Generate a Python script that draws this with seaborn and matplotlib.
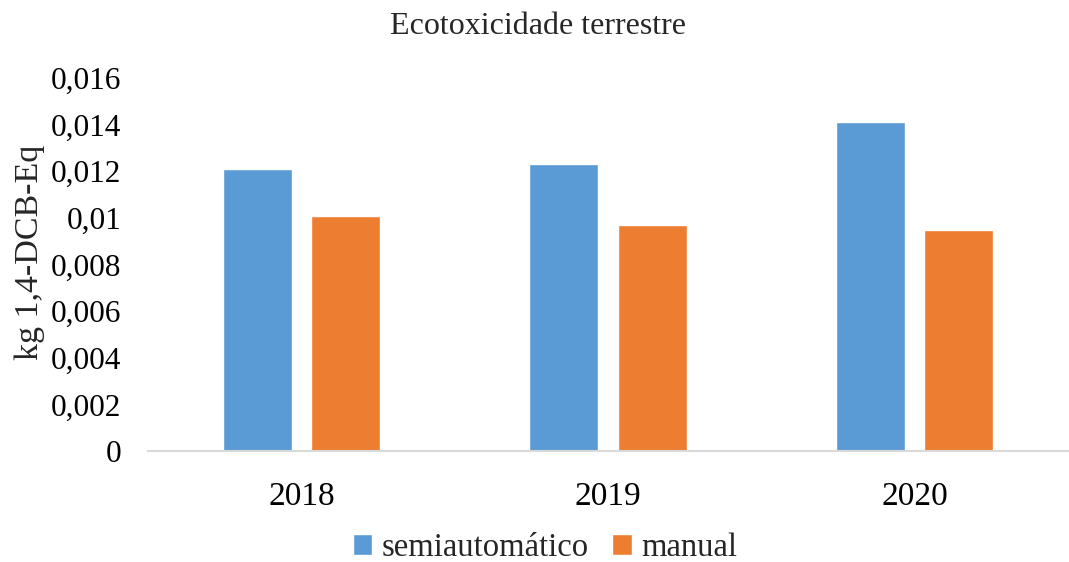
import pandas as pd
import numpy as np
import matplotlib
matplotlib.use("Agg")
import matplotlib.pyplot as plt
import seaborn as sns
import matplotlib.ticker as ticker

years = ["2018", "2019", "2020"]
semiautomatico = [0.0121, 0.0123, 0.0141]
manual = [0.0101, 0.0097, 0.0095]
series_names = ["semiautomático", "manual"]
yticks = [0, 0.002, 0.004, 0.006, 0.008, 0.010, 0.012, 0.014, 0.016]

df = pd.DataFrame({
    "Ano": years * 2,
    "Valor": semiautomatico + manual,
    "Sistema": [series_names[0]] * 3 + [series_names[1]] * 3,
})

sns.set_theme(style="white")
plt.rcParams['font.family'] = ['Liberation Serif', 'DejaVu Serif']

def comma_label(x, pos):
    return f"{round(x, 6):g}".replace('.', ',')

fig = plt.figure(figsize=(10.69, 5.62), dpi=100)
ax = fig.add_axes([148 / 1069, 1 - 451 / 562, 920 / 1069, (451 - 78) / 562])

my_palette = ["#5b9bd5", "#ed7d31"]
f = sns.barplot(data=df, x="Ano", y="Valor", hue="Sistema", hue_order=series_names,
                palette=my_palette, width=0.574, gap=0.216, saturation=1, ax=ax)

f.set_xlim(-0.5, 2.5)
f.set_ylim(0, 0.016)
f.set_yticks(yticks)
f.yaxis.set_major_formatter(ticker.FuncFormatter(comma_label))
f.tick_params(axis='both', length=0, colors="#000000")
f.tick_params(axis='x', pad=22, labelsize=24)
f.tick_params(axis='y', pad=19, labelsize=22.5)
for s in ["top", "right", "left"]:
    f.spines[s].set_visible(False)
f.spines["bottom"].set_color("#d9d9d9")
f.spines["bottom"].set_linewidth(1.5)

f.set_xlabel("")
f.set_ylabel("kg 1,4-DCB-Eq", fontsize=24.5)
f.yaxis.set_label_coords(-0.112, 0.533)
fig.text(538 / 1069, 1 - 27 / 562, "Ecotoxicidade terrestre", ha="center", va="center", fontsize=23)

ax.get_legend().remove()
lines, labels = ax.get_legend_handles_labels()
fig.legend(lines, labels, loc='center', bbox_to_anchor=(545 / 1069, 1 - 548 / 562), ncol=2,
           frameon=False, fontsize=23.5, handlelength=0.6, handleheight=0.6,
           handletextpad=0.3, columnspacing=0.7)

fig.savefig("out.png", dpi=100)
